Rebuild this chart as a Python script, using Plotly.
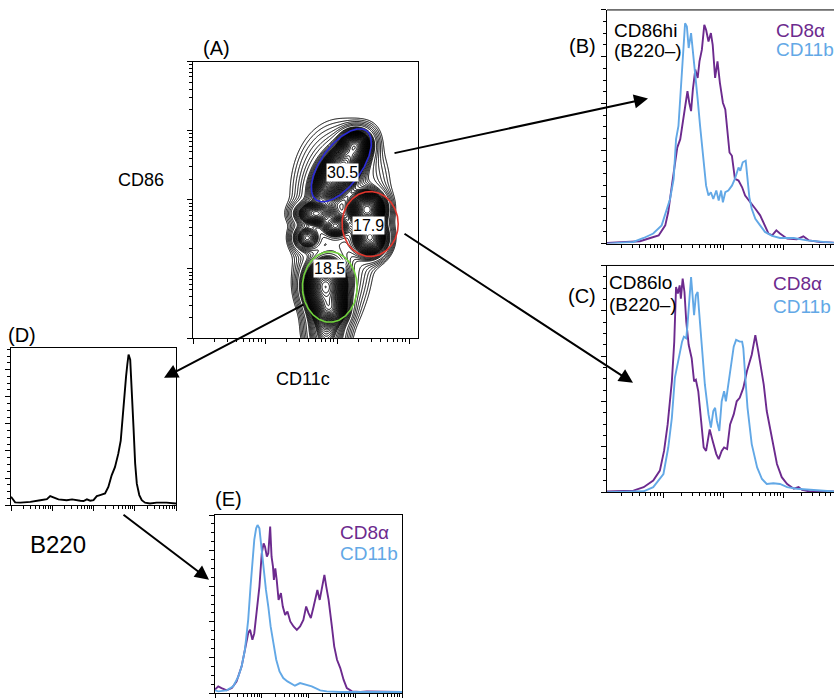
import numpy as np
import plotly.graph_objects as go

W, H = 834, 698

# ---------------- data ----------------
# Panel (A): CD11c (x) vs CD86 (y), log10 decades; sub-populations that make up the contour map
pop_x = [2.05, 2.25, 2.42, 2.46, 1.84, 1.90, 1.70, 1.98, 1.58, 2.05, 1.95, 1.85]
pop_y = [2.45, 2.80, 1.86, 1.45, 0.75, 0.42, 1.80, 1.62, 1.45, 2.15, 1.10, 0.12]
pop_sa = [0.24, 0.10, 0.12, 0.12, 0.14, 0.12, 0.14, 0.10, 0.10, 0.31, 0.26, 0.14]
pop_sb = [0.12, 0.10, 0.13, 0.14, 0.18, 0.12, 0.09, 0.08, 0.10, 0.46, 0.50, 0.25]
pop_angle = [55, 0, 0, 0, 0, 0, 0, 0, 0, 0, 0, 0]
pop_w = [1.0, 0.5, 0.8, 0.5, 0.9, 0.5, 0.35, 0.25, 0.2, 0.08, 0.06, 0.15]

gate_labels = ["30.5", "17.9", "18.5"]
gate_cx = [2.06, 2.46, 1.90]
gate_cy = [2.50, 1.65, 0.74]
gate_a = [0.61, 0.39, 0.38]
gate_b = [0.285, 0.47, 0.51]
gate_angle = [55.5, 0, 0]
gate_colors = ["#2a2ad8", "#e2352c", "#70d23c"]
label_x = [2.07, 2.44, 1.89]
label_y = [2.40, 1.63, 1.00]

# Panel (B): CD86hi (B220-)
b_cd8_x = [0.06, 0.61, 0.78, 0.92, 1.03, 1.08, 1.14, 1.19, 1.23, 1.28, 1.33, 1.38, 1.40, 1.43, 1.46, 1.49, 1.53,
           1.57, 1.60, 1.64, 1.68, 1.71, 1.75, 1.79, 1.82, 1.86, 1.90, 1.94, 1.99, 2.03, 2.07, 2.10, 2.14, 2.19,
           2.25, 2.31, 2.36, 2.44, 2.53, 2.61, 2.69, 2.75, 2.81, 2.88, 2.94, 3.06, 3.22, 3.33, 3.42, 3.61, 3.84]
b_cd8_y = [0.3, 1.0, 2.4, 3.5, 7.8, 13.5, 24.8, 34.8, 41.1, 44.7, 53.2, 63.1, 65.2, 60.3, 56.7, 66.0, 74.5,
           70.9, 78.0, 83.0, 93.6, 91.5, 86.5, 90.1, 85.1, 70.9, 78.0, 68.8, 60.3, 57.4, 47.5, 39.0, 37.6, 27.7,
           27.0, 24.1, 20.6, 17.7, 14.9, 12.1, 7.8, 4.3, 3.5, 5.7, 4.3, 2.1, 1.8, 3.1, 1.4, 0.7, 0.4]
b_cd11b_x = [0.06, 0.50, 0.67, 0.83, 0.97, 1.06, 1.11, 1.17, 1.21, 1.25, 1.28, 1.31, 1.33, 1.36, 1.39, 1.42,
             1.46, 1.49, 1.53, 1.57, 1.61, 1.66, 1.71, 1.75, 1.79, 1.83, 1.88, 1.92, 1.96, 1.99, 2.03, 2.08,
             2.14, 2.19, 2.25, 2.28, 2.32, 2.37, 2.40, 2.43, 2.47, 2.53, 2.61, 2.69, 2.81, 2.94, 3.17, 3.39, 3.84]
b_cd11b_y = [0.0, 0.7, 2.4, 4.3, 7.8, 15.6, 19.1, 27.7, 44.7, 50.4, 61.7, 75.9, 84.4, 94.3, 92.9, 83.7,
             90.1, 83.0, 70.9, 61.7, 50.4, 37.6, 24.8, 20.6, 22.0, 19.1, 22.7, 18.4, 22.7, 17.7, 22.0, 22.7,
             24.8, 27.7, 32.6, 31.2, 34.8, 35.5, 27.7, 19.9, 14.9, 10.6, 7.8, 5.0, 3.3, 2.4, 2.4, 1.4, 0.3]

# Panel (C): CD86lo (B220-)
c_cd8_x = [0.06, 0.50, 0.67, 0.83, 0.94, 1.01, 1.07, 1.11, 1.14, 1.18, 1.21, 1.24, 1.27, 1.29, 1.32, 1.35,
           1.38, 1.42, 1.47, 1.51, 1.54, 1.58, 1.62, 1.67, 1.71, 1.77, 1.82, 1.88, 1.92, 1.97, 2.01, 2.06,
           2.11, 2.17, 2.22, 2.27, 2.33, 2.39, 2.47, 2.53, 2.58, 2.67, 2.72, 2.78, 2.83, 2.89, 2.97, 3.06,
           3.17, 3.25, 3.31, 3.44, 3.84]
c_cd8_y = [0.3, 0.7, 2.2, 5.1, 9.5, 18.2, 29.9, 41.6, 48.9, 66.4, 90.5, 87.6, 91.2, 85.4, 94.2, 88.3,
           75.2, 65.0, 59.1, 48.9, 49.6, 44.5, 34.3, 19.7, 18.2, 27.7, 22.6, 16.8, 14.6, 18.2, 19.7, 19.0,
           29.9, 34.3, 40.1, 41.6, 46.0, 53.3, 60.6, 69.3, 62.0, 47.4, 35.8, 27.0, 21.2, 12.4, 6.6, 3.6,
           1.5, 2.2, 1.0, 0.3, 0.3]
c_cd11b_x = [0.06, 0.67, 0.83, 1.00, 1.08, 1.14, 1.19, 1.25, 1.31, 1.34, 1.38, 1.40, 1.43, 1.46, 1.48, 1.51,
             1.54, 1.57, 1.59, 1.64, 1.69, 1.75, 1.79, 1.83, 1.86, 1.89, 1.93, 1.97, 2.01, 2.04, 2.08, 2.12,
             2.17, 2.21, 2.27, 2.31, 2.33, 2.36, 2.40, 2.47, 2.56, 2.64, 2.72, 2.83, 2.94, 3.06, 3.22, 3.84]
c_cd11b_y = [0.0, 0.4, 2.2, 8.0, 19.7, 32.8, 50.4, 59.1, 66.4, 68.6, 67.9, 73.7, 86.9, 94.9, 88.3, 78.1,
             86.9, 88.3, 81.0, 65.0, 47.4, 34.3, 28.5, 35.8, 37.2, 31.4, 27.0, 40.1, 44.5, 40.1, 47.4, 56.2,
             64.2, 67.2, 66.4, 66.4, 63.5, 51.8, 37.2, 21.2, 10.9, 5.8, 3.6, 3.9, 3.6, 2.2, 1.5, 0.3]

# Panel (D): B220 histogram
d_b220_x = [0.0, 0.10, 0.23, 0.47, 0.71, 0.87, 0.95, 1.03, 1.15, 1.35, 1.48, 1.68, 1.76, 1.84, 1.92, 2.00,
            2.08, 2.16, 2.28, 2.36, 2.44, 2.52, 2.60, 2.66, 2.71, 2.74, 2.79, 2.82, 2.85, 2.89, 2.93, 2.97,
            3.01, 3.05, 3.11, 3.17, 3.25, 3.37, 3.53, 3.77, 4.0]
d_b220_y = [3.1, 1.0, 0.9, 1.2, 1.8, 2.2, 3.3, 2.8, 2.1, 1.8, 2.1, 1.6, 1.5, 2.1, 1.6, 1.8,
            3.3, 3.7, 4.3, 6.7, 11.0, 14.0, 18.9, 23.8, 33.6, 40.9, 47.6, 51.9, 55.6, 53.7, 43.3, 28.7,
            15.3, 7.9, 3.7, 1.8, 0.9, 0.6, 0.9, 0.9, 0.6]

# Panel (E): B220+ cells
e_cd8_x = [0, 0.07, 0.14, 0.25, 0.36, 0.46, 0.57, 0.66, 0.71, 0.75, 0.80, 0.84, 0.89, 0.95, 1.00, 1.04,
           1.07, 1.11, 1.14, 1.18, 1.21, 1.24, 1.26, 1.29, 1.32, 1.36, 1.41, 1.45, 1.50, 1.55, 1.61, 1.68,
           1.75, 1.82, 1.89, 1.95, 2.00, 2.05, 2.11, 2.16, 2.19, 2.24, 2.29, 2.34, 2.38, 2.43, 2.50, 2.55,
           2.61, 2.68, 2.75, 2.82, 2.93, 3.11, 3.25, 4.0]
e_cd8_y = [1.9, 3.7, 2.8, 1.5, 2.8, 6.5, 15.0, 28.0, 33.6, 35.5, 29.9, 33.6, 44.9, 59.8, 78.5, 84.1,
           82.2, 76.6, 78.5, 93.5, 76.6, 71.0, 63.6, 70.1, 63.6, 52.3, 56.1, 48.6, 43.9, 45.8, 40.2, 37.4,
           35.5, 37.4, 41.1, 48.6, 44.9, 42.1, 48.6, 54.2, 57.9, 52.3, 59.8, 66.4, 59.8, 52.3, 37.4, 26.2,
           18.7, 14.0, 7.5, 2.8, 0.9, 0.6, 0.9, 0.6]
e_cd11b_x = [0, 0.07, 0.25, 0.39, 0.50, 0.57, 0.64, 0.71, 0.76, 0.81, 0.84, 0.88, 0.91, 0.95, 0.99, 1.04,
             1.09, 1.14, 1.19, 1.25, 1.31, 1.38, 1.46, 1.55, 1.62, 1.71, 1.82, 1.93, 2.07, 2.25, 2.39, 2.68,
             3.25, 4.0]
e_cd11b_y = [1.5, 0.9, 1.5, 3.7, 9.3, 15.0, 24.3, 41.1, 59.8, 78.5, 86.0, 92.5, 94.4, 92.5, 82.2, 67.3,
             57.9, 48.6, 37.4, 28.0, 18.7, 12.1, 8.4, 6.5, 5.6, 4.1, 5.6, 4.7, 3.7, 1.5, 0.9, 0.6,
             0.6, 0.6]

PURPLE = "#6c2a8e"
BLUE = "#62a8e6"
FONT = "Arial, Liberation Sans, sans-serif"


def px(x):
    return x / W


def py(y):
    return 1 - y / H


def log_minor(lo, hi):
    vals = []
    for d in range(int(np.floor(lo)) - 1, int(np.ceil(hi)) + 1):
        for k in range(2, 10):
            v = d + np.log10(k)
            if lo < v < hi:
                vals.append(round(v, 4))
    return vals


def log_major(lo, hi):
    return [d for d in range(int(np.floor(lo)) - 1, int(np.ceil(hi)) + 1) if lo - 1e-9 <= d <= hi + 1e-9]


def axis(dom, rng, major, minor, mirror, anchor):
    return dict(domain=dom, range=rng, showgrid=False, zeroline=False, showline=True, linecolor="black",
                linewidth=1, mirror=mirror, ticks="outside", ticklen=5, tickwidth=1, tickcolor="black",
                tickmode="array", tickvals=major, showticklabels=False, anchor=anchor, fixedrange=True,
                minor=dict(tickmode="array", tickvals=minor, ticks="outside", ticklen=3, tickwidth=1,
                           tickcolor="black", showgrid=False))


def lin_minor(lo, hi, step):
    n = int(round((hi - lo) / step))
    return [round(lo + i * step, 4) for i in range(n + 1)]


fig = go.Figure()

# ---------- panel A: contour ----------
gx = np.linspace(0, 3.125, 320)
gy = np.linspace(0, 4, 400)
XX, YY = np.meshgrid(gx, gy)
Z = np.zeros_like(XX)
for cx, cy, sa, sb, ang, w in zip(pop_x, pop_y, pop_sa, pop_sb, pop_angle, pop_w):
    t = np.deg2rad(ang)
    dx, dy = XX - cx, YY - cy
    u = dx * np.cos(t) + dy * np.sin(t)
    v = -dx * np.sin(t) + dy * np.cos(t)
    Z += w * np.exp(-0.5 * (u ** 2 / sa ** 2 + v ** 2 / sb ** 2))
Zl = np.log10(Z / Z.max() + 1e-9)

for start, end, size, lw in [(-2.2, -1.5, 0.12, 1.0), (-1.42, -1.0, 0.06, 1.0), (-0.97, -0.01, 0.028, 1.0)]:
    fig.add_trace(go.Contour(x=gx, y=gy, z=Zl, xaxis="x", yaxis="y", showscale=False,
                             contours=dict(start=start, end=end, size=size, coloring="lines"),
                             colorscale=[[0, "black"], [1, "black"]], line=dict(width=lw, smoothing=1),
                             hoverinfo="skip"))

tt = np.linspace(0, 2 * np.pi, 200)
for cx, cy, a, b, ang, col in zip(gate_cx, gate_cy, gate_a, gate_b, gate_angle, gate_colors):
    t = np.deg2rad(ang)
    ex = cx + a * np.cos(t) * np.cos(tt) - b * np.sin(t) * np.sin(tt)
    ey = cy + a * np.sin(t) * np.cos(tt) + b * np.cos(t) * np.sin(tt)
    fig.add_trace(go.Scatter(x=ex, y=ey, mode="lines", line=dict(color=col, width=1.6),
                             xaxis="x", yaxis="y", hoverinfo="skip", showlegend=False))


def hist(xs, ys, col, xa, ya):
    fig.add_trace(go.Scatter(x=xs, y=ys, mode="lines", line=dict(color=col, width=1.9),
                             xaxis=xa, yaxis=ya, hoverinfo="skip", showlegend=False))


hist(b_cd8_x, b_cd8_y, PURPLE, "x2", "y2")
hist(b_cd11b_x, b_cd11b_y, BLUE, "x2", "y2")
hist(c_cd8_x, c_cd8_y, PURPLE, "x3", "y3")
hist(c_cd11b_x, c_cd11b_y, BLUE, "x3", "y3")
hist(d_b220_x, d_b220_y, "black", "x4", "y4")
hist(e_cd8_x, e_cd8_y, PURPLE, "x5", "y5")
hist(e_cd11b_x, e_cd11b_y, BLUE, "x5", "y5")

A = dict(x=[193, 418], y=[62, 340])
B = dict(x=[607, 834], y=[10, 245])
C = dict(x=[607, 834], y=[267, 495])
D = dict(x=[11, 176], y=[350, 508])
E = dict(x=[215, 402], y=[518, 697])


def dom(p):
    return [px(p["x"][0]), px(p["x"][1])], [py(p["y"][1]), py(p["y"][0])]


ax_a, ay_a = dom(A)
ax_b, ay_b = dom(B)
ax_c, ay_c = dom(C)
ax_d, ay_d = dom(D)
ax_e, ay_e = dom(E)

hx = [0.06, 3.84]
layout = dict(
    width=W, height=H, margin=dict(l=0, r=0, t=0, b=0), paper_bgcolor="white", plot_bgcolor="white",
    showlegend=False, font=dict(family=FONT, color="black"),
    xaxis=axis(ax_a, [0, 3.125], log_major(0, 3.125), log_minor(0, 3.125), True, "y"),
    yaxis=axis(ay_a, [0, 4], log_major(0, 4), log_minor(0, 4), True, "x"),
    xaxis2=axis(ax_b, hx, log_major(*hx), log_minor(*hx), False, "y2"),
    yaxis2=axis(ay_b, [0, 100], list(range(0, 101, 20)), lin_minor(0, 100, 5), False, "x2"),
    xaxis3=axis(ax_c, hx, log_major(*hx), log_minor(*hx), False, "y3"),
    yaxis3=axis(ay_c, [0, 100], list(range(0, 101, 20)), lin_minor(0, 100, 5), False, "x3"),
    xaxis4=axis(ax_d, [0, 4], log_major(0, 4), log_minor(0, 4), True, "y4"),
    yaxis4=axis(ay_d, [0, 58], list(range(0, 59, 10)), lin_minor(0, 57.5, 2.5), True, "x4"),
    xaxis5=axis(ax_e, [0, 4], log_major(0, 4), log_minor(0, 4), True, "y5"),
    yaxis5=axis(ay_e, [0, 100], list(range(0, 101, 20)), lin_minor(0, 100, 5), True, "x5"),
)
fig.update_layout(**layout)

for p in (B, C):
    fig.add_shape(type="line", xref="paper", yref="paper", x0=px(p["x"][0]), x1=1.0,
                  y0=py(p["y"][0]), y1=py(p["y"][0]), line=dict(color="black", width=1))

ann = []


def text(x, y, s, size=17, color="black", xanchor="center"):
    ann.append(dict(x=px(x), y=py(y), xref="paper", yref="paper", text=s, showarrow=False,
                    font=dict(size=size, color=color, family=FONT), xanchor=xanchor, yanchor="middle"))


text(216, 48, "(A)", 20)
text(141, 181, "CD86", 18)
text(303, 381, "CD11c", 18)
text(582, 46, "(B)", 20)
text(612, 31, "CD86hi", 19, xanchor="left")
text(612, 51, "(B220–)", 19, xanchor="left")
text(774, 31, "CD8α", 19, PURPLE, "left")
text(774, 50, "CD11b", 19, BLUE, "left")
text(582, 298, "(C)", 20)
text(607, 284, "CD86lo", 19, xanchor="left")
text(607, 306, "(B220–)", 19, xanchor="left")
text(771, 285, "CD8α", 19, PURPLE, "left")
text(771, 308, "CD11b", 19, BLUE, "left")
text(22, 337, "(D)", 20)
text(58, 548, "B220", 24)
text(228, 502, "(E)", 20)
text(338, 536, "CD8α", 19, PURPLE, "left")
text(338, 557, "CD11b", 19, BLUE, "left")

for s, lx, ly in zip(gate_labels, label_x, label_y):
    ann.append(dict(x=lx, y=ly, xref="x", yref="y", text=s, showarrow=False, bgcolor="white",
                    borderpad=0, font=dict(size=16, color="black", family=FONT)))

arrows = [((393, 154), (648, 99)), ((403, 235), (633, 385)), ((305, 306), (164, 380)), ((122, 517), (209, 583))]
for (x0, y0), (x1, y1) in arrows:
    ann.append(dict(x=px(x1), y=py(y1), ax=x0 - x1, ay=y0 - y1, xref="paper", yref="paper", axref="pixel",
                    ayref="pixel", text="", showarrow=True, arrowhead=2, arrowsize=1.4, arrowwidth=2,
                    arrowcolor="black"))

fig.update_layout(annotations=ann)
fig.write_html("out.html", config={"displayModeBar": False},
               post_script="document.body.style.margin='0px';")
